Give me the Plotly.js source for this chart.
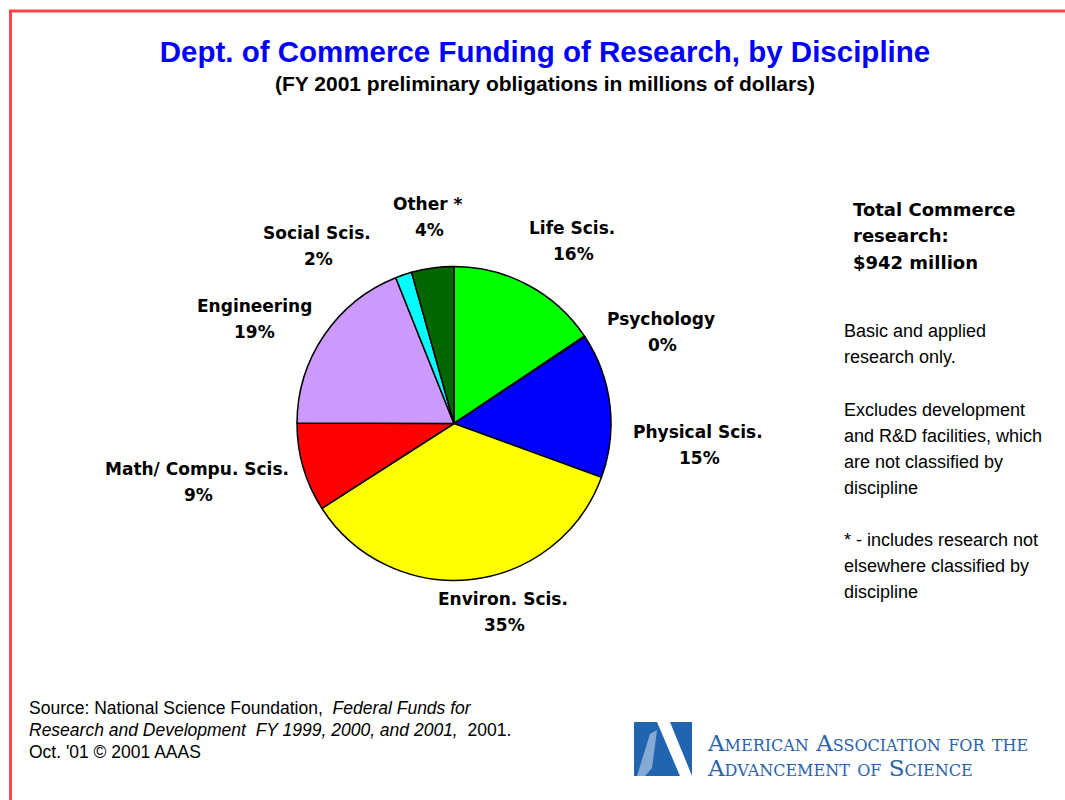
<!DOCTYPE html>
<html>
<head>
<meta charset="utf-8">
<script src="https://cdn.plot.ly/plotly-3.0.1.min.js"></script>
<style>
  html, body { margin: 0; padding: 0; background: #fff; }
  #plot { width: 1065px; height: 800px; }
</style>
</head>
<body>
<div id="plot"></div>
<script>
// FY 2001 Dept. of Commerce research obligations, $ millions
const disciplines = ['Life Scis.', 'Psychology', 'Physical Scis.', 'Environ. Scis.', 'Math/ Compu. Scis.', 'Engineering', 'Social Scis.', 'Other *'];
const obligations = [147, 1, 140, 333, 86, 178, 16, 41];
const totalMillions = 942;

const sliceColors = ['#00ff00', '#0000ff', '#0000ff', '#ffff00', '#ff0000', '#cc99ff', '#00ffff', '#006600'];

// label centres in pixels (name line), percent line sits 26px below
const labelX = [572, 661, 698, 503, 197, 254, 317, 428];
const labelY = [228, 319, 432, 599, 469, 306, 233, 204];

const sideBold = ['Total Commerce', 'research:', '$' + totalMillions + ' million'];
const sideNotes = [
    ['Basic and applied', 'research only.'],
    ['Excludes development', 'and R&D facilities, which', 'are not classified by', 'discipline'],
    ['* - includes research not', 'elsewhere classified by', 'discipline']
];
const sourceLines = [
    'Source: National Science Foundation,  <i>Federal Funds for</i>',
    '<i>Research and Development  FY 1999, 2000, and 2001,</i>  2001.',
    'Oct. \'01 \u00a9 2001 AAAS'
];
const logoLines = ['American Association for the', 'Advancement of Science'];

const W = 1065, H = 800;
function px(x) { return x / W; }
function py(y) { return 1 - y / H; }

function note(text, x, y, font, xanchor) {
    return {
        text: text,
        xref: 'paper', yref: 'paper',
        x: px(x), y: py(y),
        xanchor: xanchor || 'center', yanchor: 'middle',
        showarrow: false,
        font: font
    };
}

function draw() {
    const labelFont = { family: 'DejaVu Sans', size: 17, color: '#000', weight: 'bold' };
    const sideBoldFont = { family: 'DejaVu Sans', size: 18, color: '#000', weight: 'bold' };
    const sideFont = { family: 'Liberation Sans, Arial', size: 18, color: '#000' };
    const srcFont = { family: 'Liberation Sans, Arial', size: 17.5, color: '#000' };
    const logoFont = { family: 'DejaVu Serif, serif', size: 23, color: '#2a62aa', variant: 'small-caps' };

    const sum = obligations.reduce((a, b) => a + b, 0);
    const annotations = [];

    // subtitle
    annotations.push(note('(FY 2001 preliminary obligations in millions of dollars)', 545, 84,
        { family: 'Liberation Sans, Arial', size: 21, color: '#000', weight: 'bold' }));

    // slice labels
    for (let i = 0; i < disciplines.length; i++) {
        const pct = Math.round(obligations[i] / sum * 100) + '%';
        annotations.push(note(disciplines[i], labelX[i], labelY[i], labelFont));
        annotations.push(note(pct, labelX[i] + 1, labelY[i] + 26, labelFont));
    }

    // right-hand text
    sideBold.forEach((t, i) => annotations.push(note(t, 851, 210 + i * 26, sideBoldFont, 'left')));
    const blockTop = [331, 410, 540];
    sideNotes.forEach((block, b) => {
        block.forEach((t, i) => annotations.push(note(t, 842, blockTop[b] + i * 26, sideFont, 'left')));
    });

    // source
    sourceLines.forEach((t, i) => annotations.push(note(t, 27, 708 + i * 22, srcFont, 'left')));

    // logo text
    logoLines.forEach((t, i) => annotations.push(note(t, 705, 743 + i * 25, logoFont, 'left')));

    const logoBlue = '#2165b0';
    function poly(pts) {
        return 'M ' + pts.map(p => px(p[0]) + ',' + py(p[1])).join(' L ') + ' Z';
    }

    const shapes = [
        // red frame (top and left only)
        { type: 'path', xref: 'paper', yref: 'paper',
          path: 'M ' + px(10.5) + ',' + py(800) + ' L ' + px(10.5) + ',' + py(11) + ' L ' + px(1065) + ',' + py(11),
          line: { color: '#ff4545', width: 3 } },
        // logo
        { type: 'path', xref: 'paper', yref: 'paper', path: poly([[634, 722], [657, 722], [680, 776], [634, 776]]),
          fillcolor: logoBlue, line: { width: 0 } },
        { type: 'path', xref: 'paper', yref: 'paper', path: poly([[670, 722], [692, 722], [692, 776]]),
          fillcolor: logoBlue, line: { width: 0 } },
        { type: 'path', xref: 'paper', yref: 'paper', path: poly([[650, 734], [657, 730], [652, 768], [645, 776], [637, 776]]),
          fillcolor: 'rgba(255,255,255,0.45)', line: { width: 0 } }
    ];

    const trace = {
        type: 'pie',
        labels: disciplines,
        values: obligations,
        sort: false,
        direction: 'clockwise',
        rotation: 0,
        textinfo: 'none',
        hoverinfo: 'label+value+percent',
        marker: { colors: sliceColors, line: { color: '#000', width: 1.5 } },
        domain: { x: [px(297), px(611)], y: [py(581), py(266)] }
    };

    const layout = {
        width: W,
        height: H,
        margin: { l: 0, r: 0, t: 0, b: 0 },
        paper_bgcolor: '#fff',
        showlegend: false,
        title: {
            text: 'Dept. of Commerce Funding of Research, by Discipline',
            font: { family: 'Liberation Sans, Arial', size: 29.5, color: '#0000ff', weight: 'bold' },
            x: px(545), xanchor: 'center',
            y: py(52), yanchor: 'middle'
        },
        annotations: annotations,
        shapes: shapes
    };

    Plotly.newPlot('plot', [trace], layout, { displayModeBar: false, staticPlot: true });
}

draw();
</script>
</body>
</html>
